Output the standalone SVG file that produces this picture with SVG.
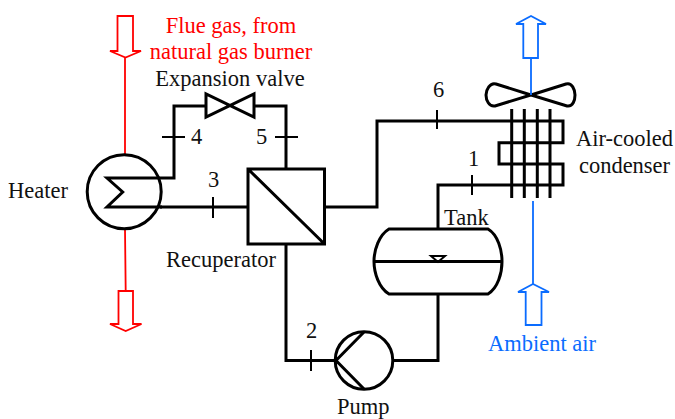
<svg xmlns="http://www.w3.org/2000/svg" width="675" height="419" viewBox="0 0 675 419">
<style>
text{font-family:"Liberation Serif","Times New Roman",serif;font-size:22.500px;fill:#111}
.m{text-anchor:middle}
.k{fill:none;stroke:#000;stroke-width:3}
.t{fill:none;stroke:#000;stroke-width:2}
.r{fill:none;stroke:#f00;stroke-width:1.800}
.b{fill:none;stroke:#0a6cff;stroke-width:1.800}
.rt{fill:#f00}
.bt{fill:#0a6cff}
</style>
<rect width="675" height="419" fill="#fff"/>
<g id="connectors">
<path class="k" d="M162 178H174V106H206M254 106H286V169"/>
<path class="k" d="M160 207H248"/>
<path class="k" d="M324 207H377V121H512"/>
<path class="k" d="M512 185H438V229"/>
<path class="k" d="M286 244V360.500H335"/>
<path class="k" d="M393 360.500H438V294"/>
<path class="t" d="M162 137H185M275 137H298M213 197V218M437 110V129M472 175V195M311 350V371"/>
</g>
<g id="flue-in"><path class="r" d="M117.500 16H133V51H141L125.500 57.500L110 51H117.500ZM125 58V154"/></g>
<g id="flue-out"><path class="r" d="M125 229L125.700 291M118.500 291H133V324H141.500L125.700 331L110 324H118.500Z"/></g>
<g id="heater">
<circle class="k" cx="124.200" cy="191.700" r="37"/>
<path class="k" d="M162 178H107L122.700 192L107 207H162"/>
</g>
<g id="valve"><path class="k" d="M206 94V117L254 94V117Z"/></g>
<g id="recuperator"><path class="k" d="M248 169H324.500V244H248ZM248 169L324.500 244"/></g>
<g id="pump">
<circle class="k" cx="364" cy="360.500" r="28.800"/>
<path class="k" d="M364 332L336 360.500L364 389"/>
</g>
<g id="tank">
<path class="k" d="M389 229H488C498 235 502 250 502 261.500C502 273 498 288 488 294H389C379 288 374 273 374 261.500C374 250 379 235 389 229ZM374 261.500H502"/>
<path class="t" d="M431 256H445L438 262Z"/>
</g>
<g id="condenser">
<path class="k" d="M512 121H563V142.700H499V164H563V185H512"/>
<path class="k" d="M511.700 109V198M524.300 109V198M537.300 109V198M550 109V198"/>
</g>
<g id="fan"><path class="k" d="M531 95L496 84C490 82 486 90 486 95C486 100 489 107 495 106ZL566 84C572 82 575 90 575 95C575 100 573 107 567 106Z"/></g>
<g id="air-out"><path class="b" d="M531 95V58M523.300 58H538V24H546L531 16L516 24H523.300Z"/></g>
<g id="air-in"><path class="b" d="M533 201V284M525.700 325H541.500V292H549L533 284L518 292H525.700Z"/></g>
<g id="labels">
<text class="m rt" x="231" y="33">Flue gas, from</text>
<text class="m rt" x="231" y="59">natural gas burner</text>
<text class="m" x="230" y="86">Expansion valve</text>
<text x="8" y="198">Heater</text>
<text x="166" y="267">Recuperator</text>
<text x="191" y="144">4</text>
<text x="256" y="144">5</text>
<text x="208" y="187">3</text>
<text x="433" y="97">6</text>
<text x="468" y="166">1</text>
<text x="306" y="338">2</text>
<text x="444" y="225">Tank</text>
<text x="337" y="414">Pump</text>
<text class="m" x="624.500" y="146">Air-cooled</text>
<text class="m" x="624.500" y="173">condenser</text>
<text class="bt" x="488" y="351">Ambient air</text>
</g>
</svg>
